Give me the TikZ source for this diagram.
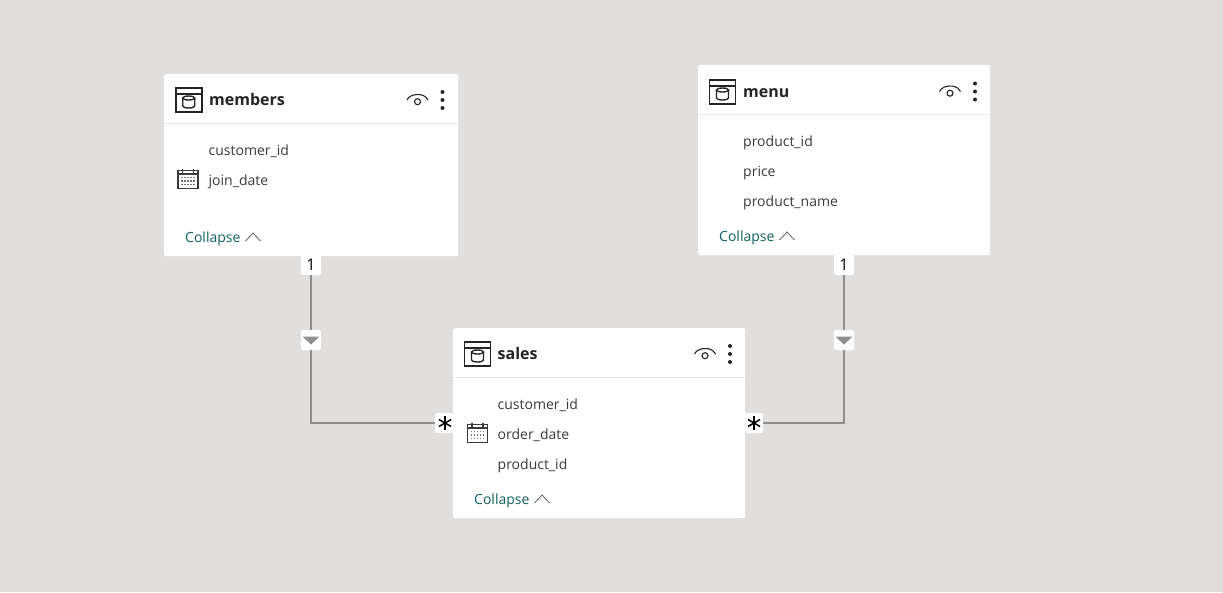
\documentclass[tikz,border=0pt]{standalone}
\usepackage{fontspec}
\setmainfont{Open Sans}
\usepackage{tikz}
\definecolor{canvasgray}{HTML}{E1DFDD}
\definecolor{linkgray}{HTML}{8F8E8D}
\definecolor{inkdark}{HTML}{252423}
\definecolor{fieldtext}{HTML}{3B3A39}
\definecolor{collapseteal}{HTML}{0F6163}
\tikzset{
	card/.style={fill=white, rounded corners=2pt, minimum width=#1, inner sep=0pt, anchor=north west},
	title/.style={font=\fontsize{16}{20}\selectfont\bfseries, text=inkdark, anchor=base west, inner sep=0pt},
	field/.style={font=\fontsize{14}{17}\selectfont, text=fieldtext, anchor=base west, inner sep=0pt},
	collapse/.style={font=\fontsize{14}{17}\selectfont, text=collapseteal, anchor=base west, inner sep=0pt},
	tagbox/.style={fill=white, rounded corners=2pt, minimum width=20pt, minimum height=20pt, inner sep=0pt},
	link/.style={draw=linkgray, line width=1.3pt},
	pics/tableicon/.style={code={
		\draw[inkdark, line width=1.7pt] (-13,-11.7) rectangle (13,11.7);
		\draw[inkdark, line width=1.3pt] (-13,-6) -- (13,-6);
		\draw[inkdark, line width=1.4pt] (-6,-2) -- (-6,6) arc[start angle=180, end angle=360, x radius=6, y radius=-2] -- (6,-2);
		\draw[inkdark, line width=1.4pt] (0,-2) ellipse[x radius=6, y radius=2];
	}},
	pics/eyeicon/.style={code={
		\draw[inkdark, line width=1.1pt] (-10.5,1) arc[start angle=165, end angle=15, x radius=10.9, y radius=-7.5];
		\draw[inkdark, line width=1.1pt] (0,2.7) circle (3);
	}},
	pics/dotsicon/.style={code={
		\foreach \d in {-8,0,8} {\fill[inkdark] (0,\d) circle (2);}
	}},
	pics/calicon/.style={code={
		\draw[fieldtext, line width=1.3pt] (-10,-8.5) rectangle (10,9.5);
		\draw[fieldtext, line width=1.5pt] (-10,-5) -- (10,-5);
		\draw[fieldtext, line width=1.2pt] (-5.5,-10.5) -- (-5.5,-6.5) (5.5,-10.5) -- (5.5,-6.5);
		\foreach \u in {-6,-3,0,3,6} {\foreach \v in {-1.5,2,5.5} {\fill[fieldtext!70] (\u-0.8,\v-0.8) rectangle (\u+0.8,\v+0.8);}}
	}},
	pics/chevron/.style={code={
		\draw[fieldtext!80, line width=0.8pt] (-7.5,4) -- (0,-4) -- (7.5,4);
	}},
	pics/droptri/.style={code={
		\fill[linkgray] (-8.5,-3.5) -- (8.5,-3.5) -- (0,4.5) -- cycle;
	}},
	pics/manystar/.style={code={
		\foreach \a in {90,30,150} {\draw[black, line width=1.5pt] (\a:7) -- (\a+180:7);}
	}},
}

\begin{document}
\begin{tikzpicture}[x=1pt, y=-1pt]
	\fill[canvasgray] (0,0) rectangle (1223,592);
	\useasboundingbox (0,0) rectangle (1223,592);

	\node[card=294pt, minimum height=182pt] (members) at (164,74) {};
	\node[card=292pt, minimum height=190pt] (menu) at (698,65) {};
	\node[card=292pt, minimum height=190pt] (sales) at (453,328) {};

	% connectors
	\node[tagbox] (membersone) at (311,265) {\fontsize{16}{16}\selectfont 1};
	\node[tagbox] (menuone) at (844,265) {\fontsize{16}{16}\selectfont 1};
	\node[tagbox] (membersdrop) at (311,340) {};
	\node[tagbox] (menudrop) at (844,340) {};
	\node[tagbox, minimum width=18pt] (salesleft) at (444,423) {};
	\node[tagbox, minimum width=18pt] (salesright) at (754,423) {};
	\draw[link] (membersone) -- (membersdrop);
	\draw[link] (membersdrop) |- (salesleft);
	\draw[link] (menuone) -- (menudrop);
	\draw[link] (menudrop) |- (salesright);
	\pic at (311,340) {droptri};
	\pic at (844,340) {droptri};
	\pic at (445,423) {manystar};
	\pic at (754,423) {manystar};

	% members
	\draw[canvasgray!70, line width=0.8pt] (164,123) -- (458,123);
	\pic at (188.7,100) {tableicon};
	\node[title] (memberstitle) at (209,105.5) {members};
	\pic at (417.5,99) {eyeicon};
	\pic at (442.5,100) {dotsicon};
	\node[field] (customerid) at (208.5,155) {customer\_id};
	\pic at (188,179) {calicon};
	\node[field] (joindate) at (208.5,185) {join\_date};
	\node[collapse] (memberscollapse) at (185,242) {Collapse};
	\pic at (253,237) {chevron};

	% menu
	\draw[canvasgray!70, line width=0.8pt] (698,114) -- (990,114);
	\pic at (722.5,92) {tableicon};
	\node[title] (menutitle) at (743,97.5) {menu};
	\pic at (950,90.5) {eyeicon};
	\pic at (975,91.5) {dotsicon};
	\node[field] (productid) at (743,146) {product\_id};
	\node[field] (price) at (743,176) {price};
	\node[field] (productname) at (743,206) {product\_name};
	\node[collapse] (menucollapse) at (719,241) {Collapse};
	\pic at (787,236) {chevron};

	% sales
	\draw[canvasgray!70, line width=0.8pt] (453,377) -- (745,377);
	\pic at (477.5,354) {tableicon};
	\node[title] (salestitle) at (497.5,359.5) {sales};
	\pic at (705,353) {eyeicon};
	\pic at (730,354) {dotsicon};
	\node[field] (salescustomer) at (497.5,409) {customer\_id};
	\pic at (477.5,433) {calicon};
	\node[field] (orderdate) at (497.5,439) {order\_date};
	\node[field] (salesproduct) at (497.5,469) {product\_id};
	\node[collapse] (salescollapse) at (474,504) {Collapse};
	\pic at (542,499) {chevron};
\end{tikzpicture}
\end{document}
